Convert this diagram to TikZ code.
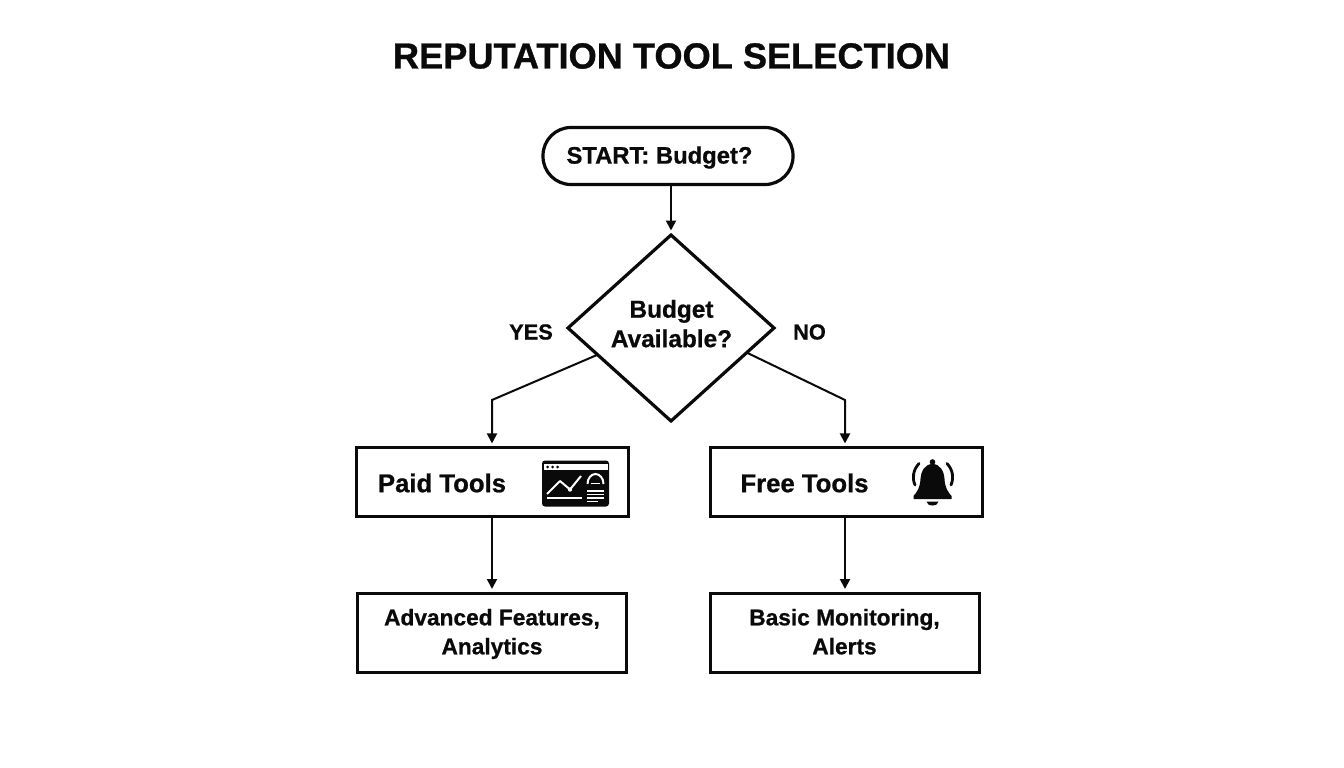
\documentclass[tikz,border=0pt]{standalone}
\usepackage{fontspec}
\setmainfont[BoldFeatures={FakeBold=0.8}]{Liberation Sans}
\usetikzlibrary{shapes.geometric,arrows.meta}
\definecolor{ink}{HTML}{0A0A0A}
\tikzset{
  box/.style={draw=ink,line width=3pt,rectangle,inner sep=0pt,outer sep=0pt,fill=white},
  startbox/.style={draw=ink,line width=3.2pt,rectangle,rounded corners=28pt,inner sep=0pt,outer sep=0pt,fill=white,minimum width=250pt,minimum height=57pt},
  decision/.style={draw=ink,line width=3.2pt,diamond,shape aspect=1.106,inner sep=0pt,outer sep=0pt,minimum width=206pt,minimum height=186pt,fill=white},
  txt/.style={text=ink,inner sep=0pt,align=center,font=\fontsize{25.7}{30}\selectfont\bfseries},
  small/.style={text=ink,inner sep=0pt,align=center,font=\fontsize{22.7}{29}\selectfont\bfseries},
  tag/.style={text=ink,inner sep=0pt,font=\fontsize{21.8}{26}\selectfont\bfseries},
  link/.style={draw=ink,line width=2pt,shorten >=4.5pt,-{Triangle[length=10pt,width=10pt]}},
  whitebar/.style={draw=white,line width=1.7pt}
}
\begin{document}
\begin{tikzpicture}[x=1pt,y=-1pt]
\useasboundingbox[fill=white] (0,0) rectangle (1344,768);
\node[text=ink,inner sep=0pt,font=\fontsize{36.2}{40}\selectfont\bfseries] (title) at (671.5,56) {REPUTATION TOOL SELECTION};
\node[startbox] (start) at (668,156) {};
\node[txt,font=\fontsize{23.8}{30}\selectfont\bfseries] (startlabel) at (659.5,157.5) {START: Budget?};
\node[decision] (dec) at (671,328) {};
\node[txt,font=\fontsize{24.4}{29.5}\selectfont\bfseries] (declabel) at (671.5,326.5) {\strut Budget\\\strut Available?};
\node[box,minimum width=272pt,minimum height=68.5pt] (paid) at (492,482.2) {};
\node[box,minimum width=272pt,minimum height=68.5pt] (free) at (846,482.2) {};
\node[txt] (paidlabel) at (442,483) {Paid Tools};
\node[txt] (freelabel) at (804.5,483) {Free Tools};
\node[box,minimum width=269pt,minimum height=79pt] (adv) at (492,633) {};
\node[box,minimum width=269pt,minimum height=79pt] (basic) at (845,633) {};
\node[small] (advlabel) at (492,634) {\strut Advanced Features,\\\strut Analytics};
\node[small] (basiclabel) at (844.5,634) {\strut Basic Monitoring,\\\strut Alerts};
\node[tag] (yes) at (531,332) {YES};
\node[tag] (no) at (809.5,332) {NO};
\coordinate (yb) at (492,400);
\coordinate (nb) at (845,400);
\draw[link] (start.south -| dec.north) -- (dec.north);
\draw[link] (dec.200) -- (yb) -- (yb |- paid.north);
\draw[link] (dec.342) -- (nb) -- (nb |- free.north);
\draw[link] (paid.south) -- (paid.south |- adv.north);
\draw[link] (nb |- free.south) -- (nb |- basic.north);
% dashboard icon
\fill[ink,rounded corners=3pt] (542,460.5) rectangle (609,506.5);
\fill[white] (543.5,464) rectangle (608,470);
\fill[ink] (547.5,467) circle (1.5) (552.5,467) circle (1.5) (557.5,467) circle (1.5);
\draw[white,line width=2pt,line join=round] (547,494) -- (560,481) -- (570,489.5) -- (581,476);
\fill[white] (570,489.5) circle (2.2);
\draw[whitebar] (547,498) -- (582,498);
\draw[white,line width=2pt] (587.5,484) arc[start angle=180,end angle=0,x radius=8,y radius=-10];
\draw[white,line width=1.6pt] (591,483.5) -- (600,483.5);
\draw[whitebar] (587,491) -- (604,491);
\draw[whitebar] (587,494.5) -- (604,494.5);
\draw[whitebar] (587,498) -- (604,498);
\draw[whitebar] (587,501.5) -- (598,501.5);
% bell icon
\fill[ink] (932.5,462) circle (2.8);
\fill[ink] (932.5,464) .. controls (925,464) and (921,471) .. (920.5,479)
  .. controls (920,488) and (917,492) .. (913.5,496) -- (913.5,499) -- (951.5,499) -- (951.5,496)
  .. controls (948,492) and (945,488) .. (944.5,479)
  .. controls (944,471) and (940,464) .. (932.5,464) -- cycle;
\fill[ink] (926.5,501.5) -- (938.5,501.5) arc[start angle=0,end angle=180,x radius=6,y radius=4] -- cycle;
\draw[ink,line width=2.8pt,line cap=round] (919,463.5) .. controls (913,470) and (912,478) .. (915,485);
\draw[ink,line width=2.8pt,line cap=round] (947,463.5) .. controls (953,470) and (954,478) .. (951,485);
\end{tikzpicture}
\end{document}
